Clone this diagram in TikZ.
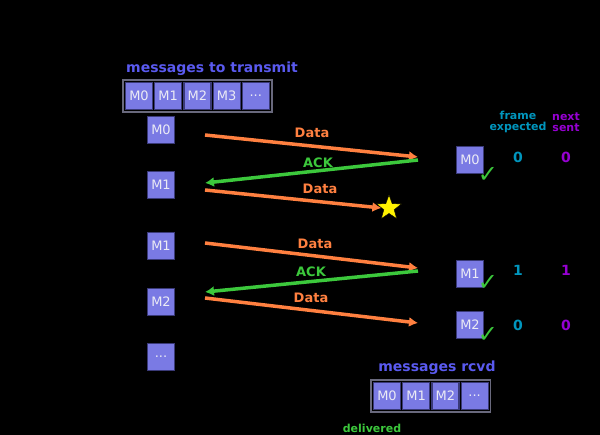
\documentclass[tikz,border=0pt]{standalone}
\usepackage{fontspec}
\setmainfont{DejaVu Sans}
\usetikzlibrary{shapes.geometric,arrows.meta,positioning,fit,backgrounds}
\definecolor{msgfill}{RGB}{122,122,228}
\definecolor{msgedge}{RGB}{58,58,120}
\definecolor{trayedge}{RGB}{105,105,125}
\definecolor{msgtext}{RGB}{235,235,245}
\definecolor{labblue}{RGB}{90,90,240}
\definecolor{dataorange}{RGB}{255,128,64}
\definecolor{ackgreen}{RGB}{60,200,60}
\definecolor{teal}{RGB}{0,150,190}
\definecolor{violet}{RGB}{150,0,210}
\tikzset{
  msg/.style={draw=msgedge, line width=1.2pt, fill=msgfill, text=msgtext,
    minimum width=27pt, minimum height=27pt, inner sep=0pt,
    font=\fontsize{13}{13}\selectfont},
  tray/.style={draw=trayedge, line width=1.5pt, fill=black, inner sep=2pt},
  caption/.style={text=labblue, font=\bfseries\fontsize{14}{14}\selectfont},
  datarrow/.style={draw=dataorange, line width=3.5pt, -{Latex[length=9pt,width=10pt]}},
  ackarrow/.style={draw=ackgreen, line width=3.5pt, -{Latex[length=9pt,width=10pt]}},
  datalab/.style={text=dataorange, font=\bfseries\fontsize{13}{13}\selectfont},
  acklab/.style={text=ackgreen, font=\bfseries\fontsize{13}{13}\selectfont},
  seqa/.style={text=teal, font=\bfseries\fontsize{11}{11}\selectfont, align=center},
  seqb/.style={text=violet, font=\bfseries\fontsize{11}{11}\selectfont, align=center},
  seqval/.style={font=\bfseries\fontsize{14}{14}\selectfont},
  tick/.style={text=ackgreen, font=\fontsize{24}{24}\selectfont, inner sep=0pt},
}
\begin{document}
\begin{tikzpicture}[x=1pt,y=-1pt]
\useasboundingbox (0,0) rectangle (600,435);
\begin{scope}[on background layer]
  \fill[black] (0,0) rectangle (600,435);
\end{scope}

% outgoing queue
\node[caption] (outcap) at (212,69) {messages to transmit};
\node[msg] (q0) at (139,96) {M0};
\node[msg, right=1pt of q0] (q1) {M1};
\node[msg, right=1pt of q1] (q2) {M2};
\node[msg, right=1pt of q2] (q3) {M3};
\node[msg, right=1pt of q3] (q4) {...};
\begin{scope}[on background layer]
  \node[tray, fit=(q0)(q4)] (outtray) {};
\end{scope}

% sender side
\node[msg] (s0) at (161,130) {M0};
\node[msg] (s1) at (161,185) {M1};
\node[msg] (s2) at (161,246) {M1};
\node[msg] (s3) at (161,302) {M2};
\node[msg] (s4) at (161,357) {...};

% receiver side
\node[msg] (r0) at (470,160) {M0};
\node[msg] (r1) at (470,274) {M1};
\node[msg] (r2) at (470,325) {M2};
\node[tick] (k0) at (488,175) {✓};
\node[tick] (k1) at (488,283) {✓};
\node[tick] (k2) at (488,335) {✓};

% lost frame
\node[star, star points=5, star point ratio=2.4, fill=yellow, draw=black,
  minimum size=26pt, inner sep=0pt] (lost) at (389,208) {};

% connector end points
\coordinate (a1s) at (205,135); \coordinate (a1e) at (418,157);
\coordinate (a2s) at (418,160); \coordinate (a2e) at (205,183);
\coordinate (a3s) at (205,190);
\coordinate (a4s) at (205,243); \coordinate (a4e) at (418,268);
\coordinate (a5s) at (418,271); \coordinate (a5e) at (205,292);
\coordinate (a6s) at (205,298); \coordinate (a6e) at (418,323);

\draw[datarrow] (a1s) -- (a1e);
\draw[ackarrow] (a2s) -- (a2e);
\draw[datarrow] (a3s) -- (lost.west);
\draw[datarrow] (a4s) -- (a4e);
\draw[ackarrow] (a5s) -- (a5e);
\draw[datarrow] (a6s) -- (a6e);

\node[datalab] (l1) at (312,133) {Data};
\node[acklab]  (l2) at (318,163) {ACK};
\node[datalab] (l3) at (320,189) {Data};
\node[datalab] (l4) at (315,244) {Data};
\node[acklab]  (l5) at (311,272) {ACK};
\node[datalab] (l6) at (311,298) {Data};

% receiver state columns
\node[seqa] (ha) at (518,122) {frame\\expected};
\node[seqb] (hb) at (566,122) {next\\sent};
\node[seqa, seqval] (va0) at (518,157) {0};
\node[seqb, seqval] (vb0) at (566,157) {0};
\node[seqa, seqval] (va1) at (518,270) {1};
\node[seqb, seqval] (vb1) at (566,270) {1};
\node[seqa, seqval] (va2) at (518,325) {0};
\node[seqb, seqval] (vb2) at (566,325) {0};

% delivered queue
\node[caption] (incap) at (437,368) {messages rcvd};
\node[msg] (d0) at (387,396) {M0};
\node[msg, right=1pt of d0] (d1) {M1};
\node[msg, right=1pt of d1] (d2) {M2};
\node[msg, right=1pt of d2] (d3) {...};
\begin{scope}[on background layer]
  \node[tray, fit=(d0)(d3)] (intray) {};
\end{scope}
\node[acklab, font=\bfseries\fontsize{11}{11}\selectfont] (deliv) at (372,428) {delivered};
\end{tikzpicture}
\end{document}
